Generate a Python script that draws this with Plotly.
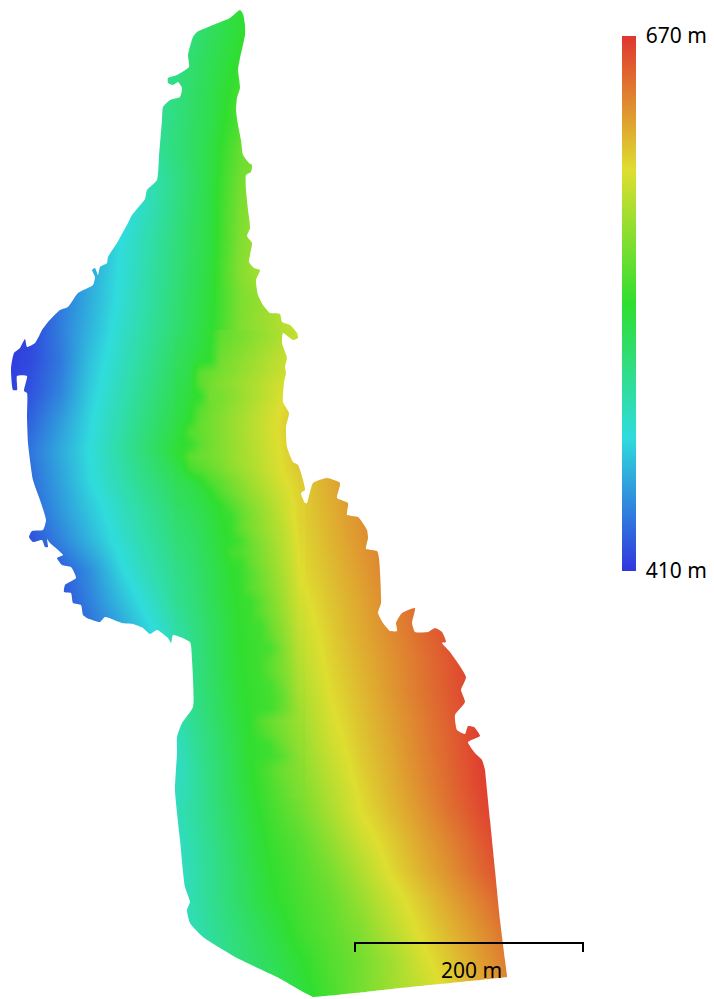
import plotly.graph_objects as go

# Elevation (m), columns at x_cols, rows at y_rows
x_cols = [0,30,60,90,120,150,180,210,240,270,300,330,360,390,420,450,480,510]
y_rows = [0,30,60,90,120,150,180,210,240,270,300,330,360,390,420,450,480,510,540,570,600,630,660,690,720,750,780,810,840,870,900,930,960,990,1020]
elev = [
[410,426,442,458,474,490,506,522,538,556,572,590,605,620,635,650,665,670],
[410,426,442,458,474,490,506,522,538,556,572,590,605,620,635,650,665,670],
[414,430,446,462,478,494,510,526,542,560,576,592,607,622,637,652,667,670],
[414,432,448,464,480,496,512,528,548,562,578,594,609,624,639,654,669,670],
[415,433,449,465,481,497,513,529,552,566,580,596,610,625,640,655,670,670],
[415,435,450,462,480,498,514,531,560,572,584,598,612,626,640,655,670,670],
[415,435,447,452,470,490,510,532,565,576,588,600,614,628,642,656,670,670],
[412,432,440,450,470,490,512,533,568,580,592,604,616,630,644,658,670,670],
[412,420,435,455,475,494,514,533,570,588,600,610,620,632,646,660,670,670],
[410,415,435,455,476,496,515,535,572,590,610,618,626,636,648,660,670,670],
[410,415,436,457,478,497,517,536,568,582,600,612,622,634,646,658,670,670],
[410,416,438,460,481,500,518,538,570,583,597,612,622,632,644,656,668,670],
[410,418,436,465,485,504,524,552,572,588,604,616,626,636,646,656,666,670],
[410,421,440,469,489,509,528,564,576,592,612,622,632,640,650,660,668,670],
[410,428,449,473,493,514,533,568,580,597,619,632,640,648,656,664,670,670],
[415,435,455,476,497,518,539,566,582,598,617,635,644,652,660,668,670,670],
[412,432,452,474,492,510,527,548,572,596,612,625,636,645,655,665,670,670],
[412,428,448,467,485,502,519,536,565,593,610,623,635,645,655,665,670,670],
[410,420,440,460,480,497,514,531,558,589,608,621,633,644,652,662,670,670],
[410,410,425,445,472,491,508,528,552,585,606,618,630,642,654,665,670,670],
[410,410,420,440,462,483,505,524,548,580,601,615,627,639,651,663,670,670],
[410,410,415,432,452,473,497,519,543,575,596,612,625,637,649,661,670,670],
[410,410,415,435,457,477,497,517,539,570,591,609,622,634,646,658,669,670],
[420,430,440,450,465,480,500,517,538,565,586,606,619,632,645,657,669,670],
[420,430,440,450,460,475,495,515,535,560,581,602,616,629,642,655,668,670],
[420,430,440,450,458,465,486,512,534,555,576,597,613,626,640,653,667,670],
[425,435,445,455,462,468,487,510,532,551,571,591,609,623,637,651,665,670],
[425,435,445,455,462,470,490,508,528,547,564,585,605,619,633,648,662,670],
[430,440,448,456,463,470,487,505,525,543,556,576,597,612,627,641,656,670],
[430,438,445,452,459,465,484,503,522,540,552,567,587,607,622,636,651,665],
[435,442,450,458,465,472,485,503,520,537,549,560,578,597,613,628,642,657],
[440,448,455,462,468,475,483,500,515,530,546,557,570,590,607,621,635,650],
[445,452,460,468,475,482,490,498,513,525,539,553,565,581,600,615,630,645],
[445,452,460,468,475,482,490,495,508,520,534,550,565,580,594,609,624,638],
[445,452,460,468,475,482,488,492,504,516,530,545,559,574,589,605,620,635],
]

# Finer reading of the scalloped slope east of the green line
scree_x = [180,190,200,210,220,230,240,250,260,270,280,290,300]
scree_y = [336,348,360,372,384,396,408,420,432,444,456,468,480,492,504,516,528,540,552,564,576,588,600,612,624,636,648,660,672,684,696,708,720,732,744,756,768,780,792]
scree_elev = [
[519,526,532,539,557,562,567,572,577,582,587,592,597],
[522,528,534,540,560,565,570,575,580,585,590,595,600],
[524,530,537,541,564,569,574,579,584,589,594,599,604],
[526,532,556,561,566,571,576,581,586,591,596,601,606],
[527,534,555,565,570,575,580,585,590,595,600,605,610],
[529,536,541,566,566,572,578,584,590,596,602,608,614],
[531,538,554,563,569,575,581,587,593,599,605,611,617],
[533,541,559,565,571,577,583,589,595,601,607,613,619],
[535,553,559,565,571,577,583,589,595,601,607,613,619],
[538,542,557,564,570,576,582,588,594,600,606,612,618],
[538,556,561,565,570,576,582,587,593,599,605,611,617],
[532,548,554,560,567,574,580,586,592,598,604,610,615],
[527,533,540,552,558,566,574,581,588,595,602,607,612],
[524,528,533,540,553,561,569,577,584,591,598,605,611],
[521,525,530,536,541,553,562,571,579,587,595,603,610],
[518,522,527,533,540,543,557,567,576,584,593,602,610],
[516,520,525,531,538,543,558,567,575,583,591,600,609],
[514,518,523,530,536,541,547,562,571,580,589,598,608],
[512,516,522,528,535,546,552,560,569,578,587,596,607],
[509,515,520,527,533,540,543,558,567,576,585,595,606],
[507,513,519,525,532,539,543,552,564,573,583,593,605],
[506,511,518,525,531,538,542,555,562,571,581,592,603],
[505,511,517,524,531,537,542,544,556,568,578,590,601],
[502,509,515,522,529,536,541,544,556,566,576,587,599],
[499,507,514,521,528,535,541,544,547,562,573,585,597],
[497,505,513,520,527,534,540,543,546,558,570,582,595],
[497,505,513,520,527,534,540,543,546,549,566,579,593],
[497,505,512,519,526,533,539,543,546,556,566,578,591],
[498,505,512,519,526,533,539,542,545,556,565,576,589],
[499,505,512,518,525,532,538,542,545,548,562,574,587],
[499,505,511,517,524,531,537,542,544,547,556,571,585],
[497,503,510,516,523,530,537,541,544,546,557,569,583],
[495,501,508,515,522,529,535,541,552,560,567,574,581],
[491,499,506,513,520,527,534,541,549,558,565,572,579],
[488,497,505,512,519,526,533,540,543,546,560,569,577],
[486,496,504,511,518,525,533,540,543,546,553,565,575],
[486,495,503,510,517,525,532,539,545,553,561,567,573],
[487,494,502,510,517,525,532,539,544,551,559,565,571],
[488,494,502,509,516,523,530,537,543,549,556,563,569],
]

# Shoreline of the surveyed area, clockwise from the northern tip
outline_x = [240,243,245,245,243,240,238,239,240,237,236,238,241,243,249,252,251,246,246,248,250,247,252,250,249,254,260,256,258,263,270,280,282,290,297,298,293,283,282,287,285,286,284,283,289,286,287,293,298,305,301,305,307,313,327,340,337,348,347,358,367,368,366,377,379,381,378,383,390,397,396,402,415,412,415,428,435,442,446,442,450,466,461,465,455,457,465,468,474,480,468,475,482,485,486,490,495,500,505,506.5,507,505,480,440,400,360,325,316,313,310,305,277,237,203,190,187,190,185,180,175,177,177,182,193,192,190,173,171,168,157,150,143,133,122,105,100,87,83,81,73,71,64,65,76,71,62,57,63,50,47,48,45,42,33,29,32,43,46,40,33,28,27,27,24,27,17,17,13,11,14,20,25,27,35,41,42,48,60,68,78,93,95,92,95,98,100,107,108,117,128,132,145,147,157,159,162,163,170,180,182,178,173,168,168,177,189,188,193,197,213,230,240]
outline_y = [10,14,25,35,45,58,70,78,88,98,110,125,140,155,163,165,172,175,190,210,228,236,243,255,262,268,270,280,295,305,313,314,322,325,333,338,340,333,343,358,367,373,383,402,413,427,447,462,465,490,493,503,503,483,478,483,498,503,515,517,530,538,549,551,558,603,613,623,631,631,623,613,608,623,632,632,628,632,642,643,652,677,690,702,715,730,734,726,727,736,742,753,760,770,780,820,870,920,960,972,977,977.3,980,984,988,992.5,996,996.8,997,995.5,993,977,958,937,923,910,902,887,840,790,753,737,723,707,660,642,635,643,638,630,634,628,624,623,617,622,618,615,605,603,593,592,585,578,567,565,558,555,543,539,547,547,540,542,537,531,530,520,500,480,443,417,393,391,376,376,390,390,368,353,348,339,347,343,332,330,322,310,307,293,285,277,270,268,275,267,263,257,243,223,215,199,190,180,157,120,107,100,97,88,82,85,83,78,75,67,55,37,32,25,18,10]
frame_x = [0,0,714,714,0]
frame_y = [0,999,999,0,0]

# Colour bar
elev_min = 410
elev_max = 670
bar_ticks = [410,670]
bar_labels = ["410 m","670 m"]
stops = [[0.0,"rgb(48,54,222)"],[0.25,"rgb(48,220,220)"],[0.5,"rgb(48,222,48)"],[0.75,"rgb(222,222,48)"],[1.0,"rgb(224,54,48)"]]

# Scale bar
scale_x = [355,355,583,583]
scale_y = [952,943,943,952]
scale_label = "200 m"

fig = go.Figure()
fig.add_trace(go.Heatmap(
    x=x_cols, y=y_rows, z=elev, zsmooth="best", zmin=elev_min, zmax=elev_max,
    colorscale=stops, hoverinfo="skip",
    colorbar=dict(
        x=622/714, xanchor="left", xpad=0, ypad=0,
        y=1-36/999, yanchor="top", len=535/999, lenmode="fraction",
        thickness=14, thicknessmode="pixels", outlinewidth=0,
        tickmode="array", tickvals=bar_ticks, ticktext=bar_labels,
        ticks="outside", ticklen=6, tickcolor="rgba(0,0,0,0)",
        tickfont=dict(family="Noto Sans", size=21, color="#000000"),
    ),
))
fig.add_trace(go.Heatmap(
    x=scree_x, y=scree_y, z=scree_elev, zsmooth="best", zmin=elev_min, zmax=elev_max,
    colorscale=stops, showscale=False, hoverinfo="skip",
))
fig.add_trace(go.Scatter(
    x=frame_x+[None]+outline_x, y=frame_y+[None]+outline_y,
    mode="lines", line=dict(width=0, shape="spline", smoothing=0.5), fill="toself", fillcolor="white",
    hoverinfo="skip", showlegend=False,
))
fig.add_trace(go.Scatter(
    x=scale_x, y=scale_y, mode="lines", line=dict(color="#000000", width=2),
    hoverinfo="skip", showlegend=False,
))
fig.add_annotation(x=439, y=970, text=scale_label, showarrow=False, xanchor="left", yanchor="middle",
                   xref="x", yref="y", font=dict(family="Noto Sans", size=21, color="#000000"))
fig.update_layout(
    width=714, height=999, margin=dict(l=0,r=0,t=0,b=0,autoexpand=False),
    paper_bgcolor="white", plot_bgcolor="white", showlegend=False,
    xaxis=dict(range=[0,714], visible=False, fixedrange=True),
    yaxis=dict(range=[999,0], visible=False, fixedrange=True),
)
fig.write_html("out.html", config={"displayModeBar": False}, post_script="document.body.style.margin='0';")
